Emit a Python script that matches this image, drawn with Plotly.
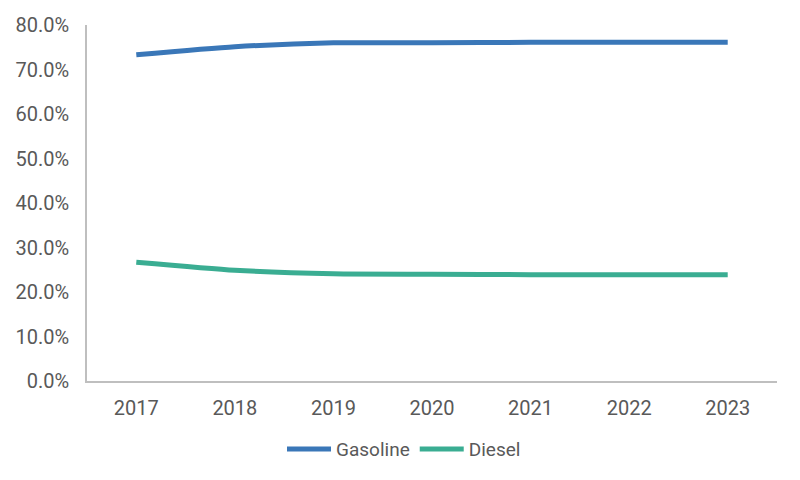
import plotly.graph_objects as go

years = ["2017", "2018", "2019", "2020", "2021", "2022", "2023"]
gasoline = [0.733, 0.751, 0.760, 0.760, 0.761, 0.761, 0.761]
diesel = [0.267, 0.249, 0.241, 0.240, 0.239, 0.239, 0.239]

font_family = "Liberation Sans Narrow, Arial Narrow, Roboto, sans-serif"
grey_text = "#595959"

fig = go.Figure()
fig.add_trace(go.Scatter(x=years, y=gasoline, name="Gasoline", mode="lines",
                         line=dict(color="#3A77B8", width=5, shape="spline", smoothing=0.6)))
fig.add_trace(go.Scatter(x=years, y=diesel, name="Diesel", mode="lines",
                         line=dict(color="#3AAD92", width=5, shape="spline", smoothing=0.6)))

# page body has an 8px margin, so the margins below are shifted to compensate
fig.update_layout(
    width=800, height=480,
    margin=dict(l=79, r=31, t=17, b=107),
    paper_bgcolor="white", plot_bgcolor="white",
    font=dict(family=font_family, size=20, color=grey_text),
    showlegend=True,
    legend=dict(orientation="h", xref="container", yref="container",
                x=0.495, xanchor="center", y=0.081, yanchor="middle",
                font=dict(size=19, color=grey_text), itemwidth=44,
                tracegroupgap=0),
)
fig.update_xaxes(type="category", range=[-0.5, 6.5], showgrid=False,
                 showline=True, linecolor="#BFBFBF", linewidth=1.5,
                 ticks="", automargin=False, ticklabelstandoff=8,
                 tickfont=dict(size=20, color=grey_text))
fig.update_yaxes(range=[0, 0.8], dtick=0.1, tickformat=".1%", showgrid=False,
                 zeroline=False, showline=True, linecolor="#BFBFBF", linewidth=1.5,
                 ticks="", automargin=False, ticklabelstandoff=12,
                 tickfont=dict(size=20, color=grey_text))

fig.write_html("out.html")
